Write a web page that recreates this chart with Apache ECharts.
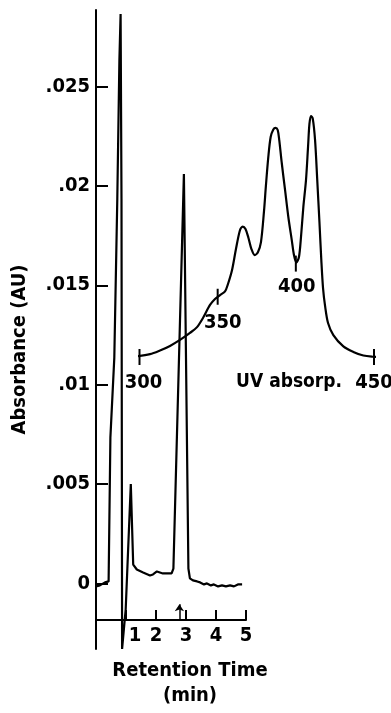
<!DOCTYPE html>
<html>
<head>
<meta charset="utf-8">
<script src="https://cdn.jsdelivr.net/npm/echarts@6/dist/echarts.min.js"></script>
<style>
  html, body { margin: 0; padding: 0; background: #fff; }
  #chart { width: 391px; height: 713px; }
</style>
</head>
<body>
<div id="chart"></div>
<script>
// Chromatogram: retention time (min) vs absorbance (AU)
const retentionTime = [
  0, 0.13, 0.3, 0.42, 0.48, 0.61, 0.71, 0.78, 0.82, 0.85, 0.87, 0.91, 0.99, 1.16,
  1.24, 1.36, 1.57, 1.8, 1.9, 2.03, 2.23, 2.52, 2.58, 2.93, 3.08, 3.13, 3.23, 3.37,
  3.47, 3.6, 3.7, 3.83, 3.93, 4.07, 4.2, 4.33, 4.47, 4.6, 4.73, 4.87
];
const absorbance = [
  -0.00015, -0.0001, 0.00005, 0.0001, 0.00735, 0.01135, 0.01935, 0.02635, 0.02865, 0.01935, -0.0033, -0.0033, -0.0013, 0.005,
  0.00095, 0.0007, 0.00055, 0.0004, 0.00045, 0.0006, 0.0005, 0.0005, 0.00075, 0.0206, 0.00075, 0.00025, 0.00015, 0.0001,
  0.00005, -0.00005, 0, -0.0001, -0.00005, -0.00015, -0.0001, -0.00015, -0.0001, -0.00015, -0.00005, -0.00005
];
const yTickValues = [0, 0.005, 0.01, 0.015, 0.02, 0.025];
const yTickLabels = ['0', '.005', '.01', '.015', '.02', '.025'];
const xTickValues = [1, 2, 3, 4, 5];
const xTickLabels = ['1', '2', '3', '4', '5'];
const injectionArrowTime = 2.78;

// UV absorption spectrum inset: wavelength (nm) vs relative absorbance
const wavelength = [
  294.6, 306.7, 313.1, 319.5, 325.9, 332.3, 336.8, 340.6, 345.1, 348.3, 351.5, 354.7,
  356.6, 359.2, 361.7, 364.3, 366.0, 367.8, 369.7, 371.6, 373.7, 375.8, 377.7, 379.6,
  380.9, 382.4, 383.9, 385.6, 387.0, 388.4, 389.4, 391.0, 393.1, 395.2, 397.4, 398.8,
  400.3, 402.0, 403.3, 404.8, 406.5, 407.8, 408.7, 409.7, 410.8, 412.3, 413.7, 415.1,
  416.3, 417.4, 418.7, 420.6, 424.0, 430.4, 436.8, 443.2, 449.2, 453.8
];
const uvAbsorbance = [
  0, 0.012, 0.027, 0.046, 0.071, 0.100, 0.124, 0.162, 0.216, 0.241, 0.257, 0.272,
  0.303, 0.361, 0.448, 0.527, 0.541, 0.531, 0.494, 0.448, 0.423, 0.436, 0.477, 0.602,
  0.714, 0.830, 0.913, 0.944, 0.951, 0.942, 0.900, 0.805, 0.693, 0.581, 0.485, 0.423,
  0.392, 0.415, 0.498, 0.622, 0.734, 0.871, 0.967, 1.000, 0.990, 0.900, 0.734, 0.560,
  0.402, 0.286, 0.212, 0.141, 0.091, 0.044, 0.021, 0.006, 0.001, 0
];
const markerNm = [300, 350, 400, 450];
const markerValue = [0, 0.25, 0.40, 0];
const markerLabels = ['300', '350', '400', '450'];

const FONT = "'Liberation Sans Narrow', 'DejaVu Sans Condensed', sans-serif";
const INK = '#000';

const chart = echarts.init(document.getElementById('chart'));

const labelShift = { 300: [4, 0], 350: [5, 0], 400: [1, 0], 450: [0, 0] };
const boldText = { color: INK, fontSize: 20, fontWeight: 'bold', fontFamily: FONT };

const option = {
  animation: false,
  backgroundColor: '#fff',
  grid: [
    { left: 96, top: 10, width: 150, bottom: 60 },
    { left: 139.5, top: 116, width: 234.5, height: 241 }
  ],
  xAxis: [
    {
      type: 'value', gridIndex: 0, min: 0, max: 5, offset: -29,
      axisLine: { onZero: false, lineStyle: { color: INK, width: 2 } },
      axisTick: { inside: true, length: 10, lineStyle: { color: INK, width: 2 }, customValues: xTickValues },
      axisLabel: Object.assign({
        customValues: xTickValues,
        formatter: (v) => {
          const s = xTickLabels[xTickValues.indexOf(v)];
          return v === 1 ? '{one|' + s + '}' : s;
        },
        rich: { one: Object.assign({ padding: [0, 0, 0, 18] }, boldText) },
        margin: 6
      }, boldText),
      splitLine: { show: false },
      name: 'Retention Time\n(min)',
      nameLocation: 'middle',
      nameGap: 38,
      nameTextStyle: Object.assign({}, boldText, {
        fontSize: 20, lineHeight: 25, padding: [0, 0, 0, 38]
      })
    },
    { type: 'value', gridIndex: 1, min: 300, max: 450, show: false }
  ],
  yAxis: [
    {
      type: 'value', gridIndex: 0, min: -0.0033, max: 0.02885,
      axisLine: { show: true, lineStyle: { color: INK, width: 2 } },
      axisTick: { show: true, inside: true, length: 12, lineStyle: { color: INK, width: 2 }, customValues: yTickValues },
      axisLabel: Object.assign({
        customValues: yTickValues,
        formatter: (v) => yTickLabels[yTickValues.indexOf(v)],
        margin: 6
      }, boldText),
      splitLine: { show: false },
      name: 'Absorbance (AU)',
      nameLocation: 'middle',
      nameRotate: 90,
      nameGap: 66,
      nameTextStyle: Object.assign({}, boldText, { fontSize: 20, padding: [0, 40, 0, 0] })
    },
    { type: 'value', gridIndex: 1, min: 0, max: 1, show: false }
  ],
  graphic: [
    {
      type: 'text', x: 342, y: 382,
      style: {
        text: 'UV absorp.', font: 'bold 19px ' + FONT, fill: INK,
        align: 'right', verticalAlign: 'middle'
      }
    }
  ],
  series: [
    {
      type: 'line',
      xAxisIndex: 0, yAxisIndex: 0,
      data: retentionTime.map((t, i) => [t, absorbance[i]]),
      showSymbol: false,
      clip: false,
      lineStyle: { color: INK, width: 2.2 },
      markLine: {
        silent: true,
        symbol: ['none', 'arrow'],
        symbolSize: 7,
        label: { show: false },
        lineStyle: { color: INK, width: 1.5, type: 'solid' },
        data: [[
          { coord: [injectionArrowTime, -0.00185] },
          { coord: [injectionArrowTime, -0.00105] }
        ]]
      }
    },
    {
      type: 'line',
      xAxisIndex: 1, yAxisIndex: 1,
      data: wavelength.map((w, i) => [w, uvAbsorbance[i]]),
      smooth: 0.3,
      showSymbol: false,
      clip: false,
      lineStyle: { color: INK, width: 2.2 }
    },
    {
      type: 'scatter',
      xAxisIndex: 1, yAxisIndex: 1,
      clip: false,
      symbol: 'rect',
      symbolSize: [2, 16],
      itemStyle: { color: INK, opacity: 1 },
      data: markerNm.map((w, i) => ({
        value: [w, markerValue[i]],
        symbolOffset: w === 400 ? [0, 3] : [0, 0],
        label: Object.assign({
          show: true,
          formatter: markerLabels[i],
          position: 'bottom',
          distance: w === 400 ? 5 : 8,
          offset: labelShift[w]
        }, boldText)
      }))
    }
  ]
};

chart.setOption(option);
</script>
</body>
</html>
